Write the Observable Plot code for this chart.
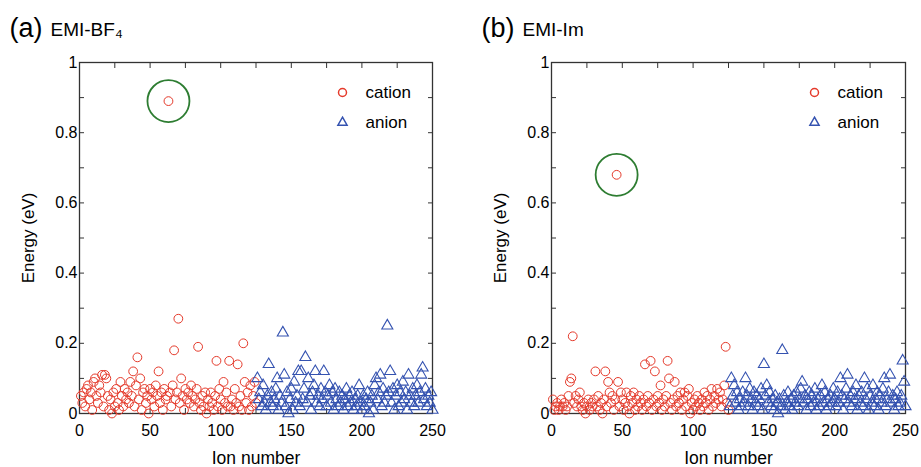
<!DOCTYPE html>
<html><head><meta charset="utf-8">
<script src="https://cdn.jsdelivr.net/npm/d3@7"></script>
<script src="https://cdn.jsdelivr.net/npm/@observablehq/plot@0.6"></script>
<style>
body{margin:0;background:#fff}
#c{display:flex;width:921px;height:467px}
</style>
</head><body><div id="c"></div>
<script>
// Energy (eV) of each ion; cations are ions 1–125, anions ions 126–250
const bf4Cation = [0.05,0.03,0.06,0.02,0.07,0.08,0.04,0.06,0.01,0.09,
 0.10,0.05,0.03,0.08,0.06,0.11,0.02,0.11,0.10,0.05,
 0.01,0.04,0.00,0.06,0.02,0.07,0.03,0.01,0.09,0.05,
 0.02,0.07,0.04,0.06,0.03,0.09,0.05,0.12,0.02,0.08,
 0.16,0.04,0.10,0.01,0.06,0.07,0.03,0.05,0.00,0.07,
 0.04,0.06,0.02,0.08,0.05,0.12,0.03,0.06,0.01,0.07,
 0.04,0.05,0.89,0.06,0.02,0.08,0.18,0.04,0.06,0.27,
 0.03,0.10,0.05,0.01,0.07,0.04,0.06,0.03,0.08,0.05,
 0.02,0.04,0.07,0.19,0.03,0.01,0.05,0.02,0.06,0.00,
 0.04,0.02,0.06,0.03,0.01,0.05,0.15,0.02,0.07,0.04,
 0.01,0.09,0.03,0.06,0.02,0.15,0.02,0.04,0.01,0.07,
 0.03,0.14,0.02,0.05,0.01,0.20,0.09,0.03,0.06,0.01,
 0.08,0.02,0.05,0.09,0.03];
const bf4Anion = [0.10,0.04,0.06,0.02,0.08,0.03,0.01,0.05,0.14,0.03,
 0.06,0.02,0.04,0.07,0.10,0.01,0.05,0.03,0.23,0.11,
 0.02,0.06,0.00,0.04,0.07,0.01,0.09,0.03,0.05,0.12,
 0.02,0.12,0.04,0.07,0.16,0.03,0.10,0.05,0.01,0.06,
 0.08,0.12,0.03,0.05,0.02,0.07,0.04,0.12,0.06,0.02,
 0.05,0.08,0.03,0.06,0.01,0.07,0.04,0.02,0.06,0.03,
 0.05,0.01,0.04,0.07,0.02,0.05,0.03,0.06,0.01,0.04,
 0.02,0.05,0.08,0.03,0.01,0.05,0.02,0.04,0.06,0.00,
 0.03,0.05,0.01,0.08,0.10,0.04,0.06,0.11,0.02,0.07,
 0.03,0.05,0.25,0.06,0.12,0.03,0.07,0.01,0.05,0.08,
 0.02,0.06,0.03,0.09,0.04,0.06,0.01,0.11,0.05,0.03,
 0.07,0.02,0.05,0.08,0.03,0.06,0.11,0.13,0.04,0.07,
 0.02,0.05,0.03,0.06,0.01];
const imCation = [0.04,0.01,0.02,0.03,0.01,0.02,0.04,0.02,0.03,0.01,
 0.02,0.05,0.09,0.10,0.22,0.03,0.05,0.02,0.04,0.06,
 0.02,0.01,0.03,0.00,0.02,0.04,0.01,0.03,0.02,0.04,
 0.12,0.02,0.05,0.01,0.03,0.00,0.04,0.12,0.02,0.09,
 0.06,0.03,0.05,0.01,0.04,0.68,0.09,0.02,0.06,0.04,
 0.01,0.03,0.06,0.02,0.00,0.05,0.03,0.06,0.01,0.04,
 0.02,0.05,0.03,0.01,0.04,0.14,0.02,0.05,0.03,0.15,
 0.01,0.04,0.12,0.02,0.05,0.03,0.08,0.01,0.04,0.02,
 0.05,0.15,0.10,0.03,0.01,0.04,0.09,0.02,0.05,0.03,
 0.06,0.01,0.04,0.06,0.02,0.05,0.07,0.00,0.03,0.01,
 0.04,0.02,0.05,0.03,0.01,0.04,0.02,0.06,0.03,0.05,
 0.01,0.04,0.07,0.02,0.05,0.03,0.07,0.04,0.06,0.02,
 0.04,0.08,0.19,0.03,0.01];
const imAnion = [0.02,0.10,0.05,0.08,0.03,0.06,0.01,0.04,0.02,0.06,
 0.03,0.10,0.05,0.02,0.07,0.04,0.01,0.06,0.03,0.05,
 0.02,0.04,0.07,0.01,0.14,0.05,0.08,0.03,0.06,0.02,
 0.04,0.01,0.05,0.03,0.00,0.04,0.02,0.18,0.05,0.01,
 0.03,0.06,0.02,0.04,0.01,0.05,0.03,0.06,0.02,0.04,
 0.07,0.09,0.03,0.05,0.01,0.04,0.06,0.02,0.05,0.03,
 0.07,0.01,0.04,0.02,0.05,0.08,0.03,0.06,0.01,0.04,
 0.02,0.05,0.03,0.07,0.04,0.02,0.06,0.03,0.10,0.05,
 0.01,0.04,0.07,0.11,0.03,0.05,0.02,0.06,0.04,0.08,
 0.01,0.05,0.03,0.06,0.02,0.10,0.04,0.07,0.01,0.05,
 0.03,0.08,0.02,0.04,0.06,0.01,0.05,0.03,0.07,0.10,
 0.02,0.04,0.06,0.11,0.03,0.05,0.01,0.04,0.06,0.02,
 0.03,0.05,0.15,0.09,0.02];

const panelLetters = ["(a)", "(b)"];
const panelNames = ["EMI-BF₄", "EMI-Im"];
const seriesNames = ["cation", "anion"];
const xTickValues = [0,25,50,75,100,125,150,175,200,225,250];
const xTickLabels = {0:"0",50:"50",100:"100",150:"150",200:"200",250:"250"};
const yTickValues = [0,0.1,0.2,0.3,0.4,0.5,0.6,0.7,0.8,0.9,1];
const yTickLabels = {0:"0",0.2:"0.2",0.4:"0.4",0.6:"0.6",0.8:"0.8",1:"1"};
const xLabel = "Ion number";
const yLabel = "Energy (eV)";

const RED = "#e53a2b", BLUE = "#3452b0", GREEN = "#2e7d32", AXIS = "#333";
const FONT = "Liberation Sans, Arial, Helvetica, sans-serif";

function rows(cat, an) {
  const c = cat.map((e, i) => ({ion: i + 1, energy: e}));
  const a = an.map((e, i) => ({ion: cat.length + i + 1, energy: e}));
  return [c, a];
}

function label(str, opts) {
  return Plot.text([str], {text: d => d, lineAnchor: "middle", ...opts});
}

function panel(k, cat, an, width, ml, mr) {
  const [c, a] = rows(cat, an);
  const top = c.reduce((m, d) => d.energy > m.energy ? d : m, c[0]);
  return Plot.plot({
    width, height: 467,
    marginLeft: ml, marginRight: mr, marginTop: 62, marginBottom: 54,
    style: {fontFamily: FONT, fontSize: "16px", color: "#000", background: "#fff", overflow: "visible"},
    x: {domain: [0, 250]},
    y: {domain: [0, 1]},
    marks: [
      Plot.frame({stroke: AXIS, strokeWidth: 1.3}),
      Plot.axisX(xTickValues, {anchor: "bottom", tickSize: -5, tickPadding: 16, stroke: AXIS, fill: "#000",
        tickFormat: d => xTickLabels[d] ?? "", label: null, fontSize: 16}),
      Plot.axisX(xTickValues, {anchor: "top", tickSize: -5, stroke: AXIS, tickFormat: () => "", label: null}),
      Plot.axisY(yTickValues, {anchor: "left", tickSize: -5, tickPadding: 7, stroke: AXIS, fill: "#000",
        tickFormat: d => yTickLabels[d] ?? "", label: null, fontSize: 16}),
      Plot.axisY(yTickValues, {anchor: "right", tickSize: -5, stroke: AXIS, tickFormat: () => "", label: null}),
      Plot.dot(c, {x: "ion", y: "energy", r: 4.4, symbol: "circle", stroke: RED, strokeWidth: 1, fill: "none"}),
      Plot.dot(a, {x: "ion", y: "energy", r: 4.1, symbol: "triangle", stroke: BLUE, strokeWidth: 1.1, fill: "none"}),
      Plot.dot([top], {x: "ion", y: "energy", r: 21, stroke: GREEN, strokeWidth: 1.8, fill: "none"}),
      // legend
      Plot.dot([seriesNames[0]], {x: null, y: null, frameAnchor: "top-left", dx: 263, dy: 30, r: 4, symbol: "circle", stroke: RED, fill: "none"}),
      Plot.dot([seriesNames[1]], {x: null, y: null, frameAnchor: "top-left", dx: 263, dy: 60, r: 3.4, symbol: "triangle", stroke: BLUE, fill: "none"}),
      label(seriesNames[0], {frameAnchor: "top-left", dx: 286, dy: 30, textAnchor: "start", fontSize: 17}),
      label(seriesNames[1], {frameAnchor: "top-left", dx: 286, dy: 60, textAnchor: "start", fontSize: 17}),
      // titles
      label(panelLetters[k], {frameAnchor: "top-left", dx: -70, dy: -34, textAnchor: "start", fontSize: 27}),
      label(panelNames[k], {frameAnchor: "top-left", dx: -29, dy: -33, textAnchor: "start", fontSize: 19}),
      // axis labels
      label(xLabel, {frameAnchor: "bottom", dy: 45, textAnchor: "middle", fontSize: 17.5}),
      label(yLabel, {frameAnchor: "left", dx: -51, rotate: -90, textAnchor: "middle", fontSize: 17})
    ]
  });
}

const host = document.getElementById("c");
host.append(panel(0, bf4Cation, bf4Anion, 460, 79, 28));
host.append(panel(1, imCation, imAnion, 461, 91, 16));
</script>
</body></html>
